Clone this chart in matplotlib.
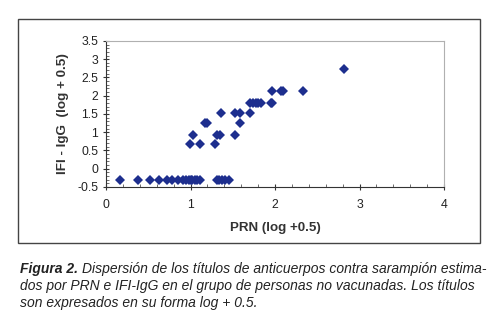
import numpy as np
import matplotlib
matplotlib.use("Agg")
import matplotlib.pyplot as plt
from matplotlib.patches import Rectangle
from matplotlib.ticker import MultipleLocator

plt.rcParams['font.family'] = ['Liberation Sans', 'DejaVu Sans']

# PRN vs IFI-IgG titres (log + 0.5)
prn = [0.16, 0.38, 0.52, 0.63, 0.72, 0.78, 0.85, 0.91, 0.95, 0.98, 1.00, 1.02,
       1.05, 1.08, 1.11, 1.31, 1.34, 1.37, 1.41, 1.45,
       0.99, 1.11, 1.29,
       1.03, 1.31, 1.35, 1.53,
       1.17, 1.20, 1.59,
       1.36, 1.53, 1.59, 1.70,
       1.71, 1.74, 1.77, 1.80, 1.83, 1.95, 1.97,
       1.97, 2.07, 2.09, 2.33,
       2.82]
ifi = [-0.3] * 20 + [0.67] * 3 + [0.93] * 4 + [1.24] * 3 + [1.52] * 4 + \
      [1.81] * 7 + [2.12] * 4 + [2.72]

fig = plt.figure(figsize=(5, 3.2), dpi=100)

# outer frame around the chart
fig.patches.append(Rectangle((0.036, 0.241), 0.924, 0.70, transform=fig.transFigure,
                             fill=False, edgecolor='#444444', linewidth=1.0))

ax = fig.add_axes([0.212, 0.416, 0.676, 0.456])
ax.plot(prn, ifi, linestyle='none', marker='D', markersize=5,
        color='#1d2e8e', markeredgewidth=0)

ax.set_xlim(0, 4)
ax.set_ylim(-0.5, 3.5)
ax.xaxis.set_major_locator(MultipleLocator(1))
ax.xaxis.set_minor_locator(MultipleLocator(0.2))
ax.yaxis.set_minor_locator(MultipleLocator(0.1))
ax.set_yticks(np.arange(-0.5, 3.51, 0.5))
ax.set_yticklabels(['-0.5', '0', '0.5', '1', '1.5', '2', '2.5', '3', '3.5'])

for s in ['left', 'bottom']:
    ax.spines[s].set_color('#333333')
    ax.spines[s].set_linewidth(0.8)
for s in ['top', 'right']:
    ax.spines[s].set_color('#b0b0b0')
    ax.spines[s].set_linewidth(0.8)

ax.tick_params(which='major', direction='inout', length=5, width=0.8, color='#333333',
               labelsize=8.8, labelcolor='#222222', pad=3)
ax.tick_params(which='minor', direction='in', length=2.5, width=0.6, color='#555555')
ax.tick_params(axis='x', which='both', direction='in')
ax.tick_params(axis='x', which='major', direction='inout', pad=6)

ax.set_xlabel('PRN (log +0.5)', fontsize=9.6, fontweight='bold', color='#333333', labelpad=8)
ax.set_ylabel('IFI - IgG  (log + 0.5)', fontsize=9.7, fontweight='bold', color='#333333',
              labelpad=6)

# caption
cap_kw = dict(fontsize=10, style='italic', color='#222222')
t1 = fig.text(0.04, 0.148, 'Figura 2.', fontweight='bold', **cap_kw)
fig.canvas.draw()
ax.annotate('Dispersión de los títulos de anticuerpos contra sarampión estima-',
            xy=(1, 0), xycoords=t1, xytext=(3, 0), textcoords='offset points',
            va='bottom', **cap_kw)
fig.text(0.04, 0.095, 'dos por PRN e IFI-IgG en el grupo de personas no vacunadas. Los títulos',
         **cap_kw)
fig.text(0.04, 0.042, 'son expresados en su forma log + 0.5.', **cap_kw)

fig.savefig('out.png', dpi=100)
